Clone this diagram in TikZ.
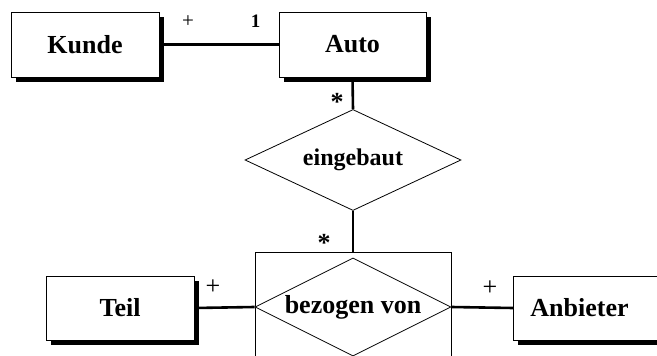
\documentclass[tikz,border=0pt]{standalone}
\usepackage{fontspec}
\setmainfont{Liberation Serif}
\usetikzlibrary{shapes.geometric,shadows}
\begin{document}
\begin{tikzpicture}[x=1pt,y=-1pt,
  entity/.style={draw, line width=0.8pt, fill=white, minimum width=148pt, minimum height=65pt, inner sep=0pt,
    font=\fontsize{26}{30}\selectfont\bfseries,
    drop shadow={shadow xshift=5pt, shadow yshift=-5pt, opacity=1, fill=black}},
  rel/.style={draw, line width=0.8pt, diamond, aspect=2, fill=white, inner sep=0pt, font=\fontsize{26}{30}\selectfont\bfseries},
  frame/.style={draw, line width=0.8pt, fill=white, inner sep=0pt},
  conn/.style={line width=2.6pt},
  mult/.style={inner sep=0pt, font=\fontsize{26}{30}\selectfont},
  smallmult/.style={inner sep=0pt, font=\fontsize{21}{24}\selectfont}]
\clip (0,0) rectangle (657,356);
\fill[white] (0,0) rectangle (657,356);
% entities
\node[entity] (kunde) at (85,44.5) {Kunde};
\node[entity, minimum width=147pt] (auto) at (352.5,44.5) {Auto};
\node[entity, minimum height=64pt] (teil) at (120,308) {Teil};
\node[entity, minimum height=64pt, anchor=west, text width=130pt, align=left, inner xsep=17pt] (anbieter) at (513,308) {Anbieter};
% relationships
\node[rel, aspect=2.14, minimum width=216pt, minimum height=101pt, font=\fontsize{24}{28}\selectfont\bfseries] (eingebaut) at (353,160) {eingebaut};
\node[frame, minimum width=196pt, minimum height=200pt, anchor=north] (aggr) at (353,252) {};
\node[rel, minimum width=196pt, minimum height=98pt] (bezogen) at (353,307) {\raisebox{-3pt}{bezogen von}};
% connectors
\draw[conn] (kunde.east) -- (auto.west);
\draw[conn] (auto.south) -- (eingebaut.north);
\draw[conn] (eingebaut.south) -- (aggr.north);
\draw[conn] (teil.east) -- (bezogen.west);
\draw[conn] (bezogen.east) -- (anbieter.west);
% multiplicities
\node[smallmult] (m1) at (188,22) {+};
\node[smallmult, font=\fontsize{19}{22}\selectfont\bfseries] (m2) at (255.5,21) {1};
\node[mult, anchor=base, font=\fontsize{26}{30}\selectfont\bfseries] (m3) at (337,110) {*};
\node[mult, anchor=base, font=\fontsize{26}{30}\selectfont\bfseries] (m4) at (324,251) {*};
\node[mult] (m5) at (213,287) {+};
\node[mult] (m6) at (490,288) {+};
\end{tikzpicture}
\end{document}
